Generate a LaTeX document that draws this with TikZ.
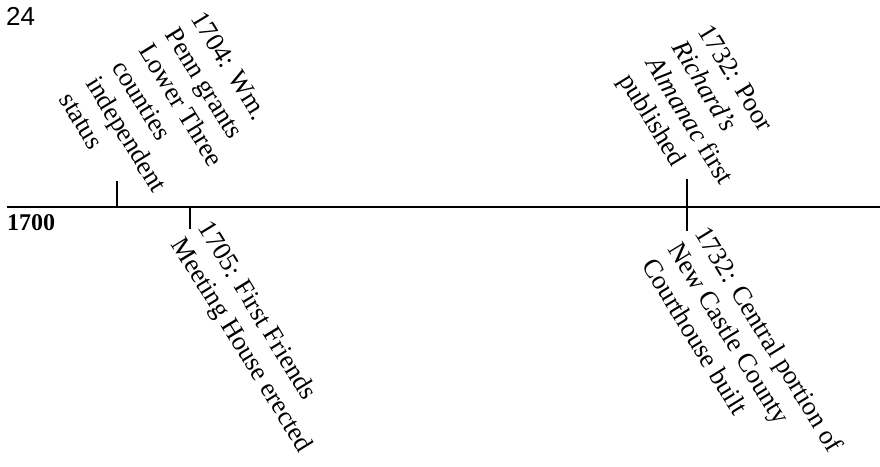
\documentclass[tikz,border=0pt]{standalone}
\usepackage{fontspec}
\setmainfont{Liberation Serif}
\newfontfamily\pagefont{Liberation Sans}
\begin{document}
\begin{tikzpicture}[x=1pt,y=-1pt,
  evlabel/.style={rotate=-58.5, anchor=north west, inner sep=0pt, align=left,
    font=\fontsize{26.5}{31}\selectfont},
  tick/.style={line width=2pt},
  axis/.style={line width=2.8pt}]
\useasboundingbox (0,0) rectangle (880,466);
% page number
\node[anchor=base west, inner sep=0pt, font=\pagefont\fontsize{26}{30}\selectfont] (pg) at (6,25) {24};
% axis
\coordinate (L) at (7,207);
\coordinate (R) at (880,207);
\draw[axis] (L) -- (R);
\node[anchor=base west, inner sep=0pt, font=\bfseries\fontsize{24}{28}\selectfont] (start) at (7,230) {1700};
% ticks
\coordinate (t1a) at (117,181); \coordinate (t1b) at (117,207);
\coordinate (t2a) at (190,207); \coordinate (t2b) at (190,229);
\coordinate (t3a) at (687,179); \coordinate (t3b) at (687,231);
\draw[tick] (t1a) -- (t1b);
\draw[tick] (t2a) -- (t2b);
\draw[tick] (t3a) -- (t3b);
% labels
\node[evlabel] (e1704) at (206,9) {1704: Wm.\\Penn grants\\Lower Three\\counties\\independent\\status};
\node[evlabel] (e1705) at (213,218) {1705: First Friends\\Meeting House erected};
\node[evlabel] (e1732a) at (713,22) {1732: Poor\\\textit{Richard’s}\\\textit{Almanac} first\\published};
\node[evlabel] (e1732b) at (710,223) {1732: Central portion of\\New Castle County\\Courthouse built};
\end{tikzpicture}
\end{document}
